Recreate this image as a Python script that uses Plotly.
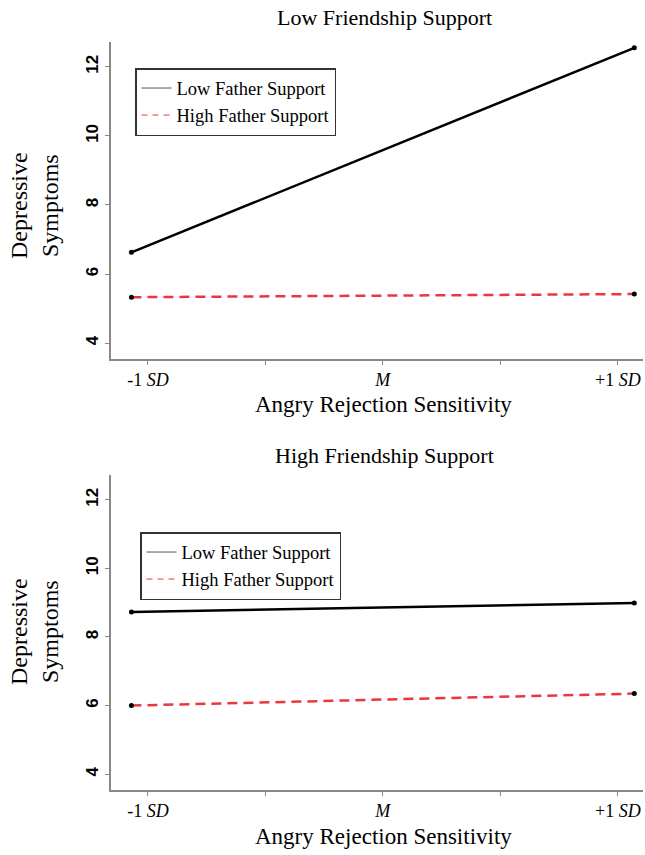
import plotly.graph_objects as go

W, H = 645, 855

# Data
x_points = [-1.07, 1.07]
top_low_father = [6.63, 12.55]
top_high_father = [5.33, 5.42]
bot_low_father = [8.73, 8.99]
bot_high_father = [6.00, 6.35]

x_tickvals = [-1, -0.5, 0, 0.5, 1]
x_ticktext = ["-1 <i>SD</i>", "", "<i>M</i>", "", "+1 <i>SD</i>"]
y_tickvals = [4, 6, 8, 10, 12]
series_names = ["Low Father Support", "High Father Support"]
panel_titles = ["Low Friendship Support", "High Friendship Support"]

SERIF = "Liberation Serif"
RED = "#e8383d"

def px_x(p):
    return p / W

def px_y(p):
    return 1 - p / H

fig = go.Figure()

panels = [
    ("x", "y", top_low_father, top_high_father, "legend"),
    ("x2", "y2", bot_low_father, bot_high_father, "legend2"),
]
for xa, ya, low, high, leg in panels:
    fig.add_trace(go.Scatter(x=x_points, y=low, xaxis=xa, yaxis=ya, mode="lines+markers",
                             line=dict(color="black", width=2.5), marker=dict(color="black", size=5),
                             showlegend=False, hoverinfo="skip"))
    fig.add_trace(go.Scatter(x=x_points, y=high, xaxis=xa, yaxis=ya, mode="lines+markers",
                             line=dict(color=RED, width=2.5, dash="10px,6px"), marker=dict(color="black", size=5),
                             showlegend=False, hoverinfo="skip"))
    # legend entries
    fig.add_trace(go.Scatter(x=[None], y=[None], xaxis=xa, yaxis=ya, mode="lines",
                             line=dict(color="#555555", width=1), name=series_names[0], legend=leg))
    fig.add_trace(go.Scatter(x=[None], y=[None], xaxis=xa, yaxis=ya, mode="lines",
                             line=dict(color=RED, width=1, dash="6px,5px"), name=series_names[1], legend=leg))

xrange = [-1.157, 1.107]
yrange = [3.54, 12.72]
axis_common = dict(showline=True, linecolor="#888888", linewidth=1.5, ticks="outside",
                   tickcolor="#888888", ticklen=4, tickwidth=1.2, showgrid=False, zeroline=False)
xtickfont = dict(family=SERIF, size=18, color="black")
ytickfont = dict(family="Liberation Sans", size=17, color="black", weight="bold")

xdom = [px_x(111), px_x(643)]
legend_common = dict(xanchor="left", yanchor="top", bordercolor="#333333", borderwidth=1.5,
                     bgcolor="white", font=dict(family=SERIF, size=18.5, color="black"))
fig.update_layout(
    width=W, height=H, margin=dict(l=0, r=0, t=0, b=0),
    paper_bgcolor="white", plot_bgcolor="white",
    xaxis=dict(domain=xdom, range=xrange, anchor="y", tickvals=x_tickvals, ticktext=x_ticktext,
               tickfont=xtickfont, **axis_common),
    yaxis=dict(domain=[px_y(359), px_y(42)], range=yrange, anchor="x", tickvals=y_tickvals,
               tickangle=-90, tickfont=ytickfont, **axis_common),
    xaxis2=dict(domain=xdom, range=xrange, anchor="y2", tickvals=x_tickvals, ticktext=x_ticktext,
                tickfont=xtickfont, **axis_common),
    yaxis2=dict(domain=[px_y(790), px_y(475)], range=yrange, anchor="x2", tickvals=y_tickvals,
                tickangle=-90, tickfont=ytickfont, **axis_common),
    legend=dict(x=px_x(135), y=px_y(68), **legend_common),
    legend2=dict(x=px_x(140), y=px_y(532), **legend_common),
)

annots = []
for title, ty in zip(panel_titles, [18, 455]):
    annots.append(dict(text=title, x=px_x(385), y=px_y(ty), xref="paper", yref="paper",
                       showarrow=False, font=dict(family=SERIF, size=22, color="black"),
                       xanchor="center", yanchor="middle"))
for ty in [405, 836]:
    annots.append(dict(text="Angry Rejection Sensitivity", x=px_x(383), y=px_y(ty), xref="paper", yref="paper",
                       showarrow=False, font=dict(family=SERIF, size=23, color="black"),
                       xanchor="center", yanchor="middle"))
for ty in [206, 632]:
    annots.append(dict(text="Depressive<br>Symptoms", x=px_x(34), y=px_y(ty), xref="paper", yref="paper",
                       showarrow=False, textangle=-90, font=dict(family=SERIF, size=24, color="black"),
                       xanchor="center", yanchor="middle"))
fig.update_layout(annotations=annots)

fig.write_html("out.html", config={"displayModeBar": False},
               post_script="document.body.style.margin='0';")
